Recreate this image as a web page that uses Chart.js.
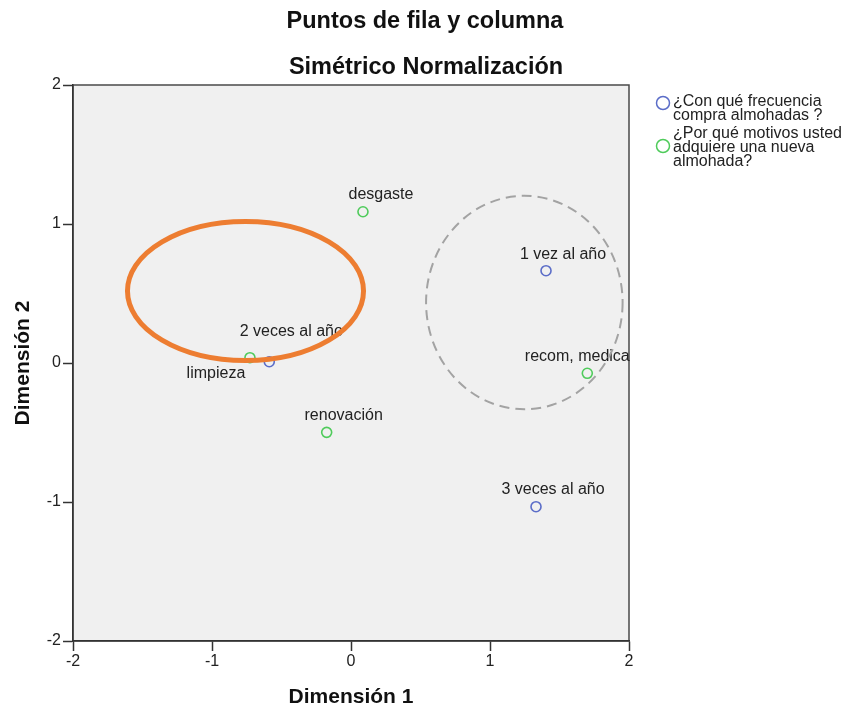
<!DOCTYPE html>
<html>
<head>
<meta charset="utf-8">
<script src="https://cdn.jsdelivr.net/npm/chart.js@4.4.1/dist/chart.umd.min.js"></script>
<style>
  html, body { margin: 0; padding: 0; background: #ffffff; }
  canvas { display: block; }
</style>
</head>
<body>
<canvas id="corrChart" width="845" height="709"></canvas>
<script>
// Row points: ¿Con qué frecuencia compra almohadas ?
const frecuenciaLabels = ['1 vez al año', '2 veces al año', '3 veces al año'];
const frecuenciaDim1 = [1.403, -0.588, 1.331];
const frecuenciaDim2 = [0.664, 0.009, -1.034];

// Column points: ¿Por qué motivos usted adquiere una nueva almohada?
const motivosLabels = ['desgaste', 'limpieza', 'renovación', 'recom, medica'];
const motivosDim1 = [0.086, -0.727, -0.175, 1.700];
const motivosDim2 = [1.088, 0.038, -0.499, -0.074];

const axisTicks = [-2, -1, 0, 1, 2];

// Hand-drawn highlight ellipses, in dimension units: [centre1, centre2, radius1, radius2]
const orangeEllipse = [-0.759, 0.518, 0.849, 0.500];
const dashedEllipse = [1.247, 0.435, 0.707, 0.768];

const FONT = "'Liberation Sans', Arial, sans-serif";
const BLUE = '#5b6dc8';
const GREEN = '#4fcb5b';

// where each label sits relative to its point (px): dx to label centre, dy to baseline
const labelOffsets = {
    '1 vez al año': [17, -12],
    '2 veces al año': [22, -26],
    '3 veces al año': [17, -13],
    'desgaste': [18, -13],
    'limpieza': [-34, 20],
    'renovación': [17, -12],
    'recom, medica': [-10, -12]
};

const toPoints = (labels, xs, ys) => labels.map((l, i) => ({ x: xs[i], y: ys[i], label: l }));

const plotFrame = {
    id: 'plotFrame',
    beforeDraw(chart) {
        const { ctx, chartArea: a } = chart;
        ctx.save();
        ctx.fillStyle = '#f0f0f0';
        ctx.fillRect(a.left, a.top, a.right - a.left, a.bottom - a.top);
        ctx.strokeStyle = '#4a4a4a';
        ctx.lineWidth = 1.5;
        ctx.strokeRect(a.left, a.top, a.right - a.left, a.bottom - a.top);
        ctx.restore();
    }
};

const pointLabels = {
    id: 'pointLabels',
    afterDatasetsDraw(chart) {
        const ctx = chart.ctx;
        ctx.save();
        ctx.font = '16px ' + FONT;
        ctx.fillStyle = '#222';
        ctx.textAlign = 'center';
        ctx.textBaseline = 'alphabetic';
        chart.data.datasets.forEach((ds, di) => {
            chart.getDatasetMeta(di).data.forEach((el, i) => {
                const lbl = ds.data[i].label;
                const off = labelOffsets[lbl] || [0, -12];
                ctx.fillText(lbl, el.x + off[0], el.y + off[1]);
            });
        });
        ctx.restore();
    }
};

const overlays = {
    id: 'overlays',
    afterDraw(chart) {
        const { ctx, scales: { x, y } } = chart;
        const drawEllipse = (e) => {
            const cx = x.getPixelForValue(e[0]);
            const cy = y.getPixelForValue(e[1]);
            const rx = Math.abs(x.getPixelForValue(e[0] + e[2]) - cx);
            const ry = Math.abs(y.getPixelForValue(e[1] + e[3]) - cy);
            ctx.beginPath();
            ctx.ellipse(cx, cy, rx, ry, 0, 0, Math.PI * 2);
            ctx.stroke();
        };
        ctx.save();
        ctx.strokeStyle = '#a3a3a3';
        ctx.lineWidth = 2;
        ctx.setLineDash([10, 6]);
        drawEllipse(dashedEllipse);
        ctx.setLineDash([]);
        ctx.strokeStyle = '#ed7d31';
        ctx.lineWidth = 5;
        drawEllipse(orangeEllipse);

        // titles
        ctx.fillStyle = '#111';
        ctx.textAlign = 'center';
        ctx.textBaseline = 'alphabetic';
        ctx.font = 'bold 23.5px ' + FONT;
        ctx.fillText('Puntos de fila y columna', 425, 28);
        ctx.fillText('Simétrico Normalización', 426, 74);
        ctx.font = 'bold 21px ' + FONT;
        ctx.fillText('Dimensión 1', 351, 703);
        ctx.save();
        ctx.translate(29, 363);
        ctx.rotate(-Math.PI / 2);
        ctx.fillText('Dimensión 2', 0, 0);
        ctx.restore();

        // legend
        ctx.textAlign = 'left';
        ctx.font = '16px ' + FONT;
        ctx.fillStyle = '#222';
        ctx.lineWidth = 1.5;
        const legend = [
            { color: BLUE, cy: 103, lines: ['¿Con qué frecuencia', 'compra almohadas ?'], base: 106 },
            { color: GREEN, cy: 146, lines: ['¿Por qué motivos usted', 'adquiere una nueva', 'almohada?'], base: 138 }
        ];
        legend.forEach(item => {
            ctx.strokeStyle = item.color;
            ctx.beginPath();
            ctx.arc(663, item.cy, 6.5, 0, Math.PI * 2);
            ctx.stroke();
            item.lines.forEach((t, i) => ctx.fillText(t, 673, item.base + i * 14));
        });
        ctx.restore();
    }
};

const tickFont = { family: FONT, size: 16 };

new Chart(document.getElementById('corrChart').getContext('2d'), {
    type: 'scatter',
    data: {
        datasets: [
            {
                label: '¿Con qué frecuencia compra almohadas ?',
                data: toPoints(frecuenciaLabels, frecuenciaDim1, frecuenciaDim2),
                borderColor: BLUE,
                backgroundColor: 'rgba(0,0,0,0)',
                borderWidth: 1.6,
                pointRadius: 5
            },
            {
                label: '¿Por qué motivos usted adquiere una nueva almohada?',
                data: toPoints(motivosLabels, motivosDim1, motivosDim2),
                borderColor: GREEN,
                backgroundColor: 'rgba(0,0,0,0)',
                borderWidth: 1.6,
                pointRadius: 5
            }
        ]
    },
    options: {
        responsive: false,
        animation: false,
        layout: { padding: { top: 85, right: 216, bottom: 0, left: 0 } },
        plugins: {
            legend: { display: false },
            tooltip: { enabled: false }
        },
        scales: {
            x: {
                type: 'linear',
                min: -2,
                max: 2,
                afterBuildTicks: s => { s.ticks = axisTicks.map(v => ({ value: v })); },
                afterFit: s => { s.height = 68; },
                ticks: { color: '#222', font: tickFont, padding: 1, maxRotation: 0 },
                grid: { drawOnChartArea: false, drawTicks: true, tickLength: 10, color: '#333', tickWidth: 1.5 },
                border: { display: true, color: '#333', width: 1.5 }
            },
            y: {
                type: 'linear',
                min: -2,
                max: 2,
                afterBuildTicks: s => { s.ticks = axisTicks.map(v => ({ value: v })); },
                afterFit: s => { s.width = 73; },
                ticks: { color: '#222', font: tickFont, padding: 2 },
                grid: { drawOnChartArea: false, drawTicks: true, tickLength: 10, color: '#333', tickWidth: 1.5 },
                border: { display: true, color: '#333', width: 1.5 }
            }
        }
    },
    plugins: [plotFrame, pointLabels, overlays]
});
</script>
</body>
</html>
